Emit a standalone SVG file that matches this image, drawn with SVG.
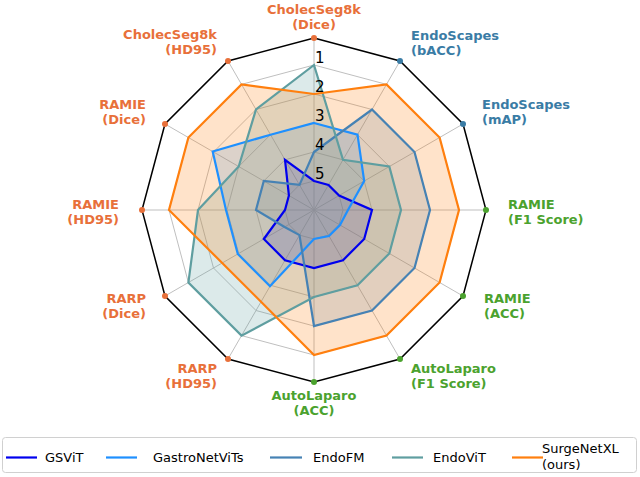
<svg xmlns="http://www.w3.org/2000/svg" width="640" height="477" viewBox="0 0 640 477">
<style>
.grid{fill:none;stroke:#bfbfbf;stroke-width:1}
.frame{fill:none;stroke:#000;stroke-width:1.5}
.f{stroke:none}
.s{fill:none;stroke-width:2.2;stroke-linejoin:miter}
.lab{font-family:"DejaVu Sans",sans-serif;font-weight:bold;font-size:13px}
.o{fill:#e8703a}.b{fill:#3a7ca5}.g{fill:#4ba22e}
.tick{font-family:"DejaVu Sans",sans-serif;font-size:15px;fill:#000}
.leg{font-family:"DejaVu Sans",sans-serif;font-size:13px;fill:#000}
</style>
<rect width="640" height="477" fill="#fff"/>
<g id="grid" transform="translate(314,210)">
<polygon class="grid" points="0,-29 14.5,-25.1 25.1,-14.5 29,0 25.1,14.5 14.5,25.1 0,29 -14.5,25.1 -25.1,14.5 -29,0 -25.1,-14.5 -14.5,-25.1"/>
<polygon class="grid" points="0,-58 29,-50.2 50.2,-29 58,0 50.2,29 29,50.2 0,58 -29,50.2 -50.2,29 -58,0 -50.2,-29 -29,-50.2"/>
<polygon class="grid" points="0,-87 43.5,-75.3 75.3,-43.5 87,0 75.3,43.5 43.5,75.3 0,87 -43.5,75.3 -75.3,43.5 -87,0 -75.3,-43.5 -43.5,-75.3"/>
<polygon class="grid" points="0,-116 58,-100.5 100.5,-58 116,0 100.5,58 58,100.5 0,116 -58,100.5 -100.5,58 -116,0 -100.5,-58 -58,-100.5"/>
<polygon class="grid" points="0,-145 72.5,-125.6 125.6,-72.5 145,0 125.6,72.5 72.5,125.6 0,145 -72.5,125.6 -125.6,72.5 -145,0 -125.6,-72.5 -72.5,-125.6"/>
<path class="grid" d="M0,0L0,-172M0,0L86,-149M0,0L149,-86M0,0L172,0M0,0L149,86M0,0L86,149M0,0L0,172M0,0L-86,149M0,0L-149,86M0,0L-172,0M0,0L-149,-86M0,0L-86,-149"/>
<polygon class="frame" points="0,-172 86,-149 149,-86 172,0 149,86 86,149 0,172 -86,149 -149,86 -172,0 -149,-86 -86,-149"/>
</g>
<defs>
<polygon id="pGS" points="0,-29 14.5,-25.1 25.1,-14.5 58,0 50.2,29 29,50.2 0,58 -29,50.2 -50.2,29 -29,0 -25.1,-14.5 -29,-50.2"/>
<polygon id="pGN" points="0,-87 43.5,-75.3 50.2,-29 34,0 26,15 15,26 0,29 -44,76.2 -76.2,44 -88,0 -101.3,-58.5 -43.5,-75.3"/>
<polygon id="pFM" points="0,-58 58,-100.5 100.5,-58 116,0 100.5,58 58,100.5 0,116 -14.5,25.1 -29.4,17 -58,0 -50.2,-29 -14.5,-25.1"/>
<polygon id="pVT" points="0,-145 29,-50.2 75.3,-43.5 87,0 75.3,43.5 43.5,75.3 0,87 -72.5,125.6 -125.6,72.5 -116,0 -75.3,-43.5 -58,-100.5"/>
<polygon id="pSN" points="0,-116 72.5,-125.6 125.6,-72.5 145,0 125.6,72.5 72.5,125.6 0,145 -53,91.8 -91.8,53 -145,0 -125.6,-72.5 -72.5,-125.6"/>
</defs>
<g id="fills" transform="translate(314,210)">
<use href="#pGS" class="f" fill="#0000dd" fill-opacity="0.2"/>
<use href="#pGN" class="f" fill="#1e90ff" fill-opacity="0.2"/>
<use href="#pFM" class="f" fill="#4682b4" fill-opacity="0.2"/>
<use href="#pVT" class="f" fill="#5f9ea0" fill-opacity="0.22"/>
<use href="#pSN" class="f" fill="#ff7f0e" fill-opacity="0.22"/>
</g>
<g id="series" transform="translate(314,210)">
<use id="GSViT" href="#pGS" class="s" stroke="#0000ee"/>
<use id="GastroNetViTs" href="#pGN" class="s" stroke="#1e90ff"/>
<use id="EndoFM" href="#pFM" class="s" stroke="#4682b4"/>
<use id="EndoViT" href="#pVT" class="s" stroke="#5f9ea0"/>
<use id="SurgeNetXL" href="#pSN" class="s" stroke="#ff7f0e"/>
</g>
<g id="dots" transform="translate(314,210)">
<circle class="o" cx="0" cy="-172" r="3"/><circle class="b" cx="86" cy="-149" r="3"/><circle class="b" cx="149" cy="-86" r="3"/>
<circle class="g" cx="172" cy="0" r="3"/><circle class="g" cx="149" cy="86" r="3"/><circle class="g" cx="86" cy="149" r="3"/>
<circle class="g" cx="0" cy="172" r="3"/><circle class="o" cx="-86" cy="149" r="3"/><circle class="o" cx="-149" cy="86" r="3"/>
<circle class="o" cx="-172" cy="0" r="3"/><circle class="o" cx="-149" cy="-86" r="3"/><circle class="o" cx="-86" cy="-149" r="3"/>
</g>
<g id="ticks">
<text class="tick" x="315" y="63">1</text>
<text class="tick" x="315" y="92">2</text>
<text class="tick" x="315" y="121">3</text>
<text class="tick" x="315" y="150">4</text>
<text class="tick" x="315" y="179">5</text>
</g>
<g id="labels" class="lab">
<text class="o" x="314" y="14" text-anchor="middle">CholecSeg8k</text><text class="o" x="314" y="29" text-anchor="middle">(Dice)</text>
<text class="b" x="411" y="40">EndoScapes</text><text class="b" x="411" y="55">(bACC)</text>
<text class="b" x="482" y="109">EndoScapes</text><text class="b" x="482" y="124">(mAP)</text>
<text class="g" x="508" y="209">RAMIE</text><text class="g" x="508" y="224">(F1 Score)</text>
<text class="g" x="484" y="303">RAMIE</text><text class="g" x="484" y="318">(ACC)</text>
<text class="g" x="411" y="373">AutoLaparo</text><text class="g" x="411" y="388">(F1 Score)</text>
<text class="g" x="314" y="400" text-anchor="middle">AutoLaparo</text><text class="g" x="314" y="415" text-anchor="middle">(ACC)</text>
<text class="o" x="217" y="373" text-anchor="end">RARP</text><text class="o" x="217" y="388" text-anchor="end">(HD95)</text>
<text class="o" x="146" y="303" text-anchor="end">RARP</text><text class="o" x="146" y="318" text-anchor="end">(Dice)</text>
<text class="o" x="119" y="209" text-anchor="end">RAMIE</text><text class="o" x="119" y="224" text-anchor="end">(HD95)</text>
<text class="o" x="146" y="109" text-anchor="end">RAMIE</text><text class="o" x="146" y="124" text-anchor="end">(Dice)</text>
<text class="o" x="217" y="39" text-anchor="end">CholecSeg8k</text><text class="o" x="217" y="54" text-anchor="end">(HD95)</text>
</g>
<g id="legend">
<rect x="2.5" y="437.5" width="634" height="35" rx="3" fill="#fff" fill-opacity="0.8" stroke="#d0d0d0"/>
<g stroke-width="2.2">
<line x1="6" y1="457.5" x2="37" y2="457.5" stroke="#0000ee"/>
<line x1="106" y1="457.5" x2="137" y2="457.5" stroke="#1e90ff"/>
<line x1="270" y1="457.5" x2="302" y2="457.5" stroke="#4682b4"/>
<line x1="392" y1="457.5" x2="423" y2="457.5" stroke="#5f9ea0"/>
<line x1="512" y1="457.5" x2="543" y2="457.5" stroke="#ff7f0e"/>
</g>
<text class="leg" x="45" y="462">GSViT</text>
<text class="leg" x="153" y="462">GastroNetViTs</text>
<text class="leg" x="313" y="462">EndoFM</text>
<text class="leg" x="433" y="462">EndoViT</text>
<text class="leg" x="542" y="453">SurgeNetXL</text>
<text class="leg" x="542" y="469">(ours)</text>
</g>
</svg>
